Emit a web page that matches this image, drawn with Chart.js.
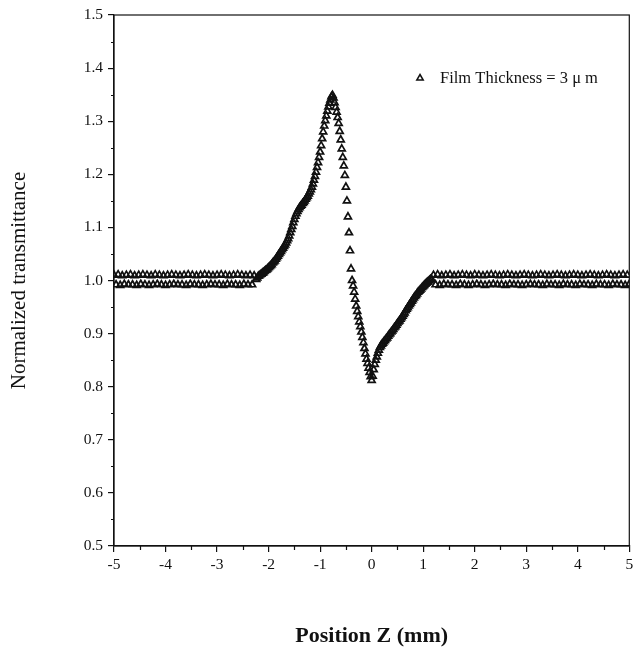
<!DOCTYPE html>
<html>
<head>
<meta charset="utf-8">
<script src="https://cdn.jsdelivr.net/npm/chart.js@4.4.1/dist/chart.umd.min.js"></script>
<style>
  html, body { margin: 0; padding: 0; background: #fff; }
  #wrap { width: 635px; height: 647px; }
</style>
</head>
<body>
<div id="wrap"><canvas id="zscan"></canvas></div>
<script>
// Z-scan data: [position Z (mm), normalized transmittance]
const baselineLeft = [
  [-5.00,1.010],[-4.96,0.992],[-4.92,1.011],[-4.88,0.991],[-4.84,1.009],[-4.80,0.993],[-4.76,1.010],[-4.72,0.992],[-4.68,1.011],[-4.64,0.992],
  [-4.60,1.009],[-4.56,0.991],[-4.52,1.010],[-4.48,0.993],[-4.44,1.011],[-4.40,0.992],[-4.36,1.010],[-4.32,0.991],[-4.28,1.009],[-4.24,0.992],
  [-4.20,1.011],[-4.16,0.993],[-4.12,1.010],[-4.08,0.992],[-4.04,1.009],[-4.00,0.991],[-3.96,1.010],[-3.92,0.992],[-3.88,1.011],[-3.84,0.993],
  [-3.80,1.010],[-3.76,0.992],[-3.72,1.009],[-3.68,0.992],[-3.64,1.010],[-3.60,0.991],[-3.56,1.011],[-3.52,0.993],[-3.48,1.010],[-3.44,0.992],
  [-3.40,1.009],[-3.36,0.992],[-3.32,1.010],[-3.28,0.991],[-3.24,1.011],[-3.20,0.992],[-3.16,1.010],[-3.12,0.993],[-3.08,1.009],[-3.04,0.992],
  [-3.00,1.010],[-2.96,0.992],[-2.92,1.011],[-2.88,0.991],[-2.84,1.010],[-2.80,0.993],[-2.76,1.009],[-2.72,0.992],[-2.68,1.010],[-2.64,0.992],
  [-2.60,1.011],[-2.56,0.991],[-2.52,1.010],[-2.48,0.993],[-2.44,1.009],[-2.40,0.992],[-2.36,1.010],[-2.32,0.992],[-2.28,1.009]
];

const scanCurve = [
  [-2.24,1.002],[-2.22,1.005],[-2.20,1.008],[-2.18,1.009],[-2.16,1.011],[-2.14,1.012],[-2.12,1.014],[-2.10,1.015],[-2.08,1.017],[-2.06,1.019],
  [-2.04,1.020],[-2.02,1.022],[-2.00,1.024],[-1.98,1.026],[-1.96,1.028],[-1.94,1.030],[-1.92,1.033],[-1.90,1.035],[-1.88,1.037],[-1.86,1.040],
  [-1.84,1.043],[-1.82,1.046],[-1.80,1.049],[-1.78,1.052],[-1.76,1.055],[-1.74,1.058],[-1.72,1.061],[-1.70,1.064],[-1.68,1.067],[-1.66,1.071],
  [-1.64,1.075],[-1.62,1.079],[-1.60,1.084],[-1.58,1.090],[-1.56,1.096],[-1.54,1.102],[-1.52,1.109],[-1.50,1.115],[-1.48,1.121],[-1.46,1.126],
  [-1.44,1.130],[-1.42,1.134],[-1.40,1.137],[-1.38,1.140],[-1.36,1.142],[-1.34,1.145],[-1.32,1.147],[-1.30,1.150],[-1.28,1.153],[-1.26,1.156],
  [-1.24,1.159],[-1.22,1.163],[-1.20,1.167],[-1.18,1.171],[-1.16,1.176],[-1.14,1.182],[-1.12,1.189],[-1.10,1.196],[-1.08,1.204],[-1.06,1.213],
  [-1.04,1.222],[-1.02,1.232],[-1.00,1.242],[-0.98,1.254],[-0.96,1.267],[-0.94,1.280],[-0.92,1.291],[-0.90,1.301],[-0.88,1.310],[-0.86,1.319],
  [-0.84,1.327],[-0.82,1.334],[-0.80,1.340],[-0.78,1.346],[-0.76,1.349],[-0.74,1.344],[-0.72,1.335],[-0.70,1.326],[-0.68,1.317],[-0.66,1.307],
  [-0.64,1.296],[-0.62,1.281],[-0.60,1.265],[-0.58,1.248],[-0.56,1.232],[-0.54,1.216],[-0.52,1.198],[-0.50,1.176],[-0.48,1.150],[-0.46,1.120],
  [-0.44,1.090],[-0.42,1.056],[-0.40,1.022],[-0.38,1.000],[-0.36,0.990],[-0.34,0.978],[-0.32,0.965],[-0.30,0.952],[-0.28,0.942],[-0.26,0.932],
  [-0.24,0.922],[-0.22,0.913],[-0.20,0.903],[-0.18,0.893],[-0.16,0.883],[-0.14,0.872],[-0.12,0.862],[-0.10,0.852],[-0.08,0.844],[-0.06,0.835],
  [-0.04,0.827],[-0.02,0.819],[0.00,0.812],[0.02,0.820],[0.04,0.832],[0.06,0.842],[0.08,0.850],[0.10,0.856],[0.12,0.863],[0.14,0.869],
  [0.16,0.874],[0.18,0.877],[0.20,0.880],[0.22,0.882],[0.24,0.885],[0.26,0.887],[0.28,0.890],[0.30,0.892],[0.32,0.895],[0.34,0.898],
  [0.36,0.900],[0.38,0.903],[0.40,0.905],[0.42,0.908],[0.44,0.911],[0.46,0.913],[0.48,0.916],[0.50,0.919],[0.52,0.922],[0.54,0.924],
  [0.56,0.927],[0.58,0.930],[0.60,0.933],[0.62,0.936],[0.64,0.939],[0.66,0.943],[0.68,0.946],[0.70,0.949],[0.72,0.952],[0.74,0.955],
  [0.76,0.958],[0.78,0.961],[0.80,0.964],[0.82,0.967],[0.84,0.970],[0.86,0.972],[0.88,0.975],[0.90,0.978],[0.92,0.980],[0.94,0.982],
  [0.96,0.984],[0.98,0.987],[1.00,0.989],[1.02,0.991],[1.04,0.993],[1.06,0.995],[1.08,0.997],[1.10,0.998],[1.12,1.000],[1.14,1.002],
  [1.16,1.003]
];

const baselineRight = [
  [1.20,1.010],[1.24,0.992],[1.28,1.011],[1.32,0.991],[1.36,1.009],[1.40,0.993],[1.44,1.010],[1.48,0.992],[1.52,1.011],[1.56,0.992],
  [1.60,1.009],[1.64,0.991],[1.68,1.010],[1.72,0.993],[1.76,1.011],[1.80,0.992],[1.84,1.010],[1.88,0.991],[1.92,1.009],[1.96,0.992],
  [2.00,1.011],[2.04,0.993],[2.08,1.010],[2.12,0.992],[2.16,1.009],[2.20,0.991],[2.24,1.010],[2.28,0.992],[2.32,1.011],[2.36,0.993],
  [2.40,1.010],[2.44,0.992],[2.48,1.009],[2.52,0.992],[2.56,1.010],[2.60,0.991],[2.64,1.011],[2.68,0.993],[2.72,1.010],[2.76,0.992],
  [2.80,1.009],[2.84,0.992],[2.88,1.010],[2.92,0.991],[2.96,1.011],[3.00,0.992],[3.04,1.010],[3.08,0.993],[3.12,1.009],[3.16,0.992],
  [3.20,1.010],[3.24,0.992],[3.28,1.011],[3.32,0.991],[3.36,1.010],[3.40,0.993],[3.44,1.009],[3.48,0.992],[3.52,1.010],[3.56,0.992],
  [3.60,1.011],[3.64,0.991],[3.68,1.010],[3.72,0.993],[3.76,1.009],[3.80,0.992],[3.84,1.010],[3.88,0.992],[3.92,1.011],[3.96,0.991],
  [4.00,1.010],[4.04,0.993],[4.08,1.009],[4.12,0.992],[4.16,1.010],[4.20,0.992],[4.24,1.011],[4.28,0.991],[4.32,1.010],[4.36,0.993],
  [4.40,1.009],[4.44,0.992],[4.48,1.010],[4.52,0.992],[4.56,1.011],[4.60,0.991],[4.64,1.010],[4.68,0.993],[4.72,1.009],[4.76,0.992],
  [4.80,1.010],[4.84,0.992],[4.88,1.011],[4.92,0.991],[4.96,1.010],[5.00,0.993]
];

const seriesLabel = 'Film Thickness = 3 \u03bc m';
const xTitle = 'Position Z (mm)';
const yTitle = 'Normalized transmittance';

const INK = '#111';
const SERIF = '"Liberation Serif", "Times New Roman", serif';

const points = [...baselineLeft, ...scanCurve, ...baselineRight].map(([x, y]) => ({ x, y }));

// box around plot, minor ticks and the in-plot legend
const framePlugin = {
  id: 'frame',
  afterDraw(chart) {
    const { ctx, chartArea: a, scales: { x, y } } = chart;
    ctx.save();
    ctx.strokeStyle = INK;
    ctx.lineWidth = 1.2;
    ctx.strokeRect(a.left, a.top, a.right - a.left, a.bottom - a.top);

    ctx.beginPath();
    for (let v = 0.55; v < 1.5; v += 0.1) {
      const py = Math.round(y.getPixelForValue(v)) + 0.5;
      ctx.moveTo(a.left - 3, py);
      ctx.lineTo(a.left, py);
    }
    for (let v = -4.5; v < 5; v += 1) {
      const px = Math.round(x.getPixelForValue(v)) + 0.5;
      ctx.moveTo(px, a.bottom);
      ctx.lineTo(px, a.bottom + 4);
    }
    ctx.stroke();

    // legend
    const lx = a.left + 306, ly = a.top + 63;
    ctx.lineWidth = 1.5;
    ctx.beginPath();
    ctx.moveTo(lx, ly - 3.5);
    ctx.lineTo(lx + 3.2, ly + 2);
    ctx.lineTo(lx - 3.2, ly + 2);
    ctx.closePath();
    ctx.stroke();
    ctx.fillStyle = INK;
    ctx.font = '16.5px ' + SERIF;
    ctx.textBaseline = 'middle';
    ctx.fillText(seriesLabel, lx + 20, ly + 1);
    ctx.restore();
  }
};

new Chart(document.getElementById('zscan'), {
  type: 'scatter',
  data: {
    datasets: [{
      label: seriesLabel,
      data: points,
      pointStyle: 'triangle',
      pointRadius: 4,
      pointBorderWidth: 1.7,
      borderColor: INK,
      backgroundColor: 'rgba(255,255,255,0)',
      showLine: false
    }]
  },
  options: {
    responsive: true,
    maintainAspectRatio: false,
    animation: false,
    events: [],
    layout: { padding: { top: 15, right: 1, left: 0, bottom: 0 } },
    plugins: {
      legend: { display: false },
      tooltip: { enabled: false }
    },
    scales: {
      x: {
        type: 'linear',
        min: -5,
        max: 5,
        afterFit: s => { s.height = 101; s.paddingLeft = 0; s.paddingRight = 0; },
        ticks: {
          stepSize: 1,
          color: INK,
          padding: 4,
          maxRotation: 0,
          font: { family: SERIF, size: 15.5 }
        },
        grid: { drawOnChartArea: false, tickLength: 6, color: INK, lineWidth: 1.2 },
        border: { color: INK, width: 1.2 },
        title: {
          display: true,
          text: xTitle,
          color: INK,
          padding: { top: 0, bottom: -3 },
          font: { family: SERIF, size: 22, weight: 'bold' }
        }
      },
      y: {
        type: 'linear',
        min: 0.5,
        max: 1.5,
        afterFit: s => { s.width = 114; },
        ticks: {
          stepSize: 0.1,
          color: INK,
          padding: 5,
          callback: v => v.toFixed(1),
          font: { family: SERIF, size: 15.5 }
        },
        grid: { drawOnChartArea: false, tickLength: 6, color: INK, lineWidth: 1.2 },
        border: { color: INK, width: 1.2 },
        title: {
          display: true,
          text: yTitle,
          color: INK,
          padding: { top: 7, bottom: 0 },
          font: { family: SERIF, size: 21 }
        }
      }
    }
  },
  plugins: [framePlugin]
});
</script>
</body>
</html>
